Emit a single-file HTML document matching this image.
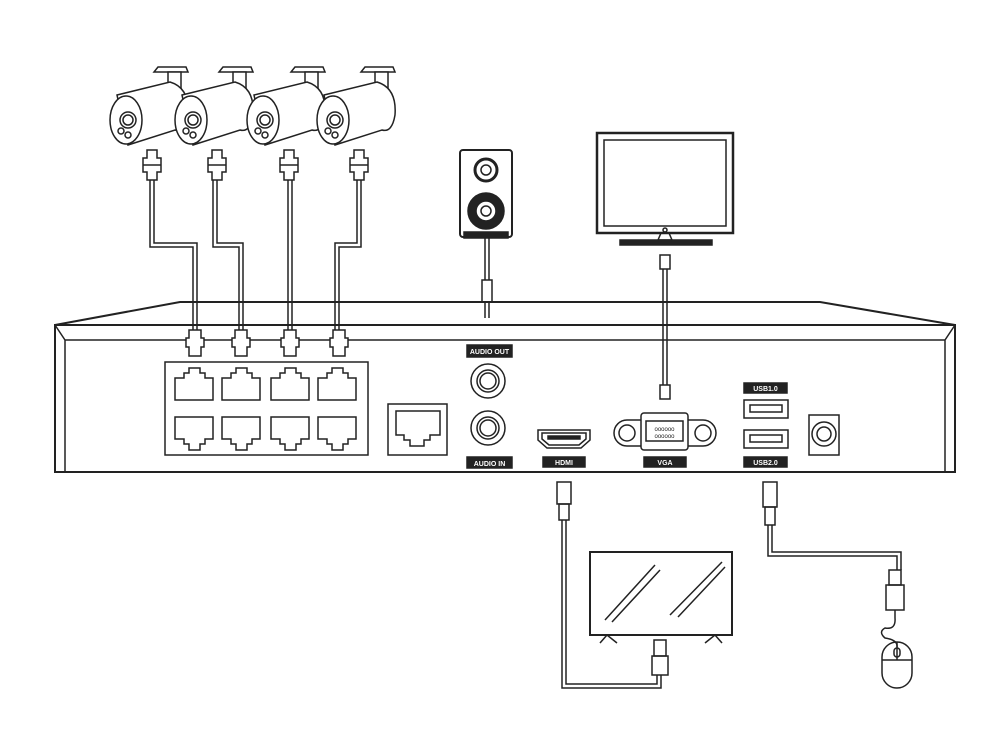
<!DOCTYPE html>
<html><head><meta charset="utf-8"><style>body{margin:0;background:#fff}svg{display:block}text{font-family:"Liberation Sans",sans-serif;font-weight:bold;font-size:7px;fill:#fff;stroke:none}</style></head><body>
<svg width="1000" height="752" viewBox="0 0 1000 752" fill="none" stroke="#222" stroke-width="1.5">
<!-- NVR -->
<path d="M55 325 L180 302 L820 302 L955 325" stroke-width="2"/>
<path d="M55 325 H955 V472 H55 Z" stroke-width="2"/>
<path d="M55 325 L65 340 H945 L955 325 M65 340 V472 M945 340 V472"/>
<rect x="165" y="362" width="203" height="93"/>
<g id="pt"><path d="M175 400 V378 H184 V373 H189 V368 H200 V373 H205 V378 H213 V400 Z"/></g>
<use href="#pt" x="47"/><use href="#pt" x="96"/><use href="#pt" x="143"/>
<g id="pb"><path d="M175 417 V439 H184 V444 H189 V450 H200 V444 H205 V439 H213 V417 Z"/></g>
<use href="#pb" x="47"/><use href="#pb" x="96"/><use href="#pb" x="143"/>
<rect x="388" y="404" width="59" height="51"/>
<path d="M396 411 H440 V435 H430 V440 H424 V446 H410 V440 H404 V435 H396 Z"/>
<rect x="467" y="345" width="45" height="12" fill="#222"/><text x="489.5" y="354" text-anchor="middle">AUDIO OUT</text>
<circle cx="488" cy="381" r="17"/><circle cx="488" cy="381" r="11"/><circle cx="488" cy="381" r="8"/>
<circle cx="488" cy="428" r="17"/><circle cx="488" cy="428" r="11"/><circle cx="488" cy="428" r="8"/>
<rect x="467" y="457" width="45" height="11" fill="#222"/><text x="489.5" y="466" text-anchor="middle">AUDIO IN</text>
<path d="M538 430 H590 V440 L581 448 H547 L538 440 Z"/><path d="M542 433 H586 V439 L579 445 H549 L542 439 Z"/><rect x="548" y="436" width="32" height="3" fill="#222"/>
<rect x="543" y="457" width="42" height="10" fill="#222"/><text x="564" y="465" text-anchor="middle">HDMI</text>
<rect x="614" y="420" width="102" height="26" rx="13"/><circle cx="627" cy="433" r="8"/><circle cx="703" cy="433" r="8"/>
<rect x="641" y="413" width="47" height="37" rx="3" fill="#fff"/><rect x="646" y="421" width="37" height="20"/>
<text x="664.5" y="431" text-anchor="middle" style="fill:#222;font-size:6px;font-weight:normal">oooooo</text><text x="664.5" y="438" text-anchor="middle" style="fill:#222;font-size:6px;font-weight:normal">oooooo</text>
<rect x="644" y="457" width="42" height="10" fill="#222"/><text x="665" y="465" text-anchor="middle">VGA</text>
<rect x="744" y="383" width="43" height="10" fill="#222"/><text x="765.5" y="391" text-anchor="middle">USB1.0</text>
<rect x="744" y="400" width="44" height="18"/><rect x="750" y="405" width="32" height="7"/>
<rect x="744" y="430" width="44" height="18"/><rect x="750" y="435" width="32" height="7"/>
<rect x="744" y="457" width="43" height="10" fill="#222"/><text x="765.5" y="465" text-anchor="middle">USB2.0</text>
<rect x="809" y="415" width="30" height="40"/><circle cx="824" cy="434" r="12"/><circle cx="824" cy="434" r="7"/>
<!-- cameras -->
<g id="cam">
<path d="M158 67 H186 L188 72 H154 Z" fill="#fff"/><rect x="168" y="72" width="13" height="30" fill="#fff"/>
<path d="M117 95 L170 82 Q190 88 188 115 Q185 133 175 130 L128 145 Z" fill="#fff"/>
<ellipse cx="126" cy="120" rx="16" ry="24" fill="#fff"/><circle cx="128" cy="120" r="8"/><circle cx="128" cy="120" r="5"/><circle cx="121" cy="131" r="3"/><circle cx="128" cy="135" r="3"/>
<path d="M147 150 h10 v8 h4 v14 h-4 v8 h-10 v-8 h-4 v-14 h4 Z" fill="#fff"/><path d="M143 165 h18"/>
</g>
<use href="#cam" x="65"/><use href="#cam" x="137"/><use href="#cam" x="207"/>
<!-- camera cables -->
<path d="M150 180 V247 H193 V330 M154 180 V243 H197 V330"/>
<path d="M213 180 V247 H239 V330 M217 180 V243 H243 V330"/>
<path d="M288 180 V330 M292 180 V330"/>
<path d="M357 180 V243 H335 V330 M361 180 V247 H339 V330"/>
<g id="nc"><path d="M189 330 h12 v8 h3 v9 h-3 v9 h-12 v-9 h-3 v-9 h3 Z" fill="#fff"/></g>
<use href="#nc" x="46"/><use href="#nc" x="95"/><use href="#nc" x="144"/>
<!-- speaker -->
<rect x="460" y="150" width="52" height="87" rx="3" stroke-width="2"/><rect x="464" y="232" width="44" height="6" fill="#222"/>
<circle cx="486" cy="170" r="11" stroke-width="3"/><circle cx="486" cy="170" r="5"/>
<circle cx="486" cy="211" r="18" fill="#222"/><circle cx="486" cy="211" r="10" fill="#fff"/><circle cx="486" cy="211" r="5"/>
<path d="M485 238 V280 M489 238 V280"/><rect x="482" y="280" width="10" height="22"/><path d="M485 302 V318 M489 302 V318"/>
<!-- monitor -->
<rect x="597" y="133" width="136" height="100" stroke-width="2.5"/><rect x="604" y="140" width="122" height="86"/>
<circle cx="665" cy="230" r="2"/><path d="M661 233 L658 240 H672 L669 233"/><rect x="620" y="240" width="92" height="5" fill="#222"/>
<rect x="660" y="255" width="10" height="14"/><path d="M663 269 V385 M667 269 V385"/><rect x="660" y="385" width="10" height="14"/>
<!-- HDMI cable + TV -->
<rect x="557" y="482" width="14" height="22"/><rect x="559" y="504" width="10" height="16"/>
<path d="M562 520 V688 H661 V675 M566 520 V684 H657 V675"/>
<rect x="654" y="640" width="12" height="16"/><rect x="652" y="656" width="16" height="19"/>
<rect x="590" y="552" width="142" height="83" stroke-width="2"/>
<path d="M605 620 L655 565 M612 622 L660 570 M670 615 L722 562 M678 617 L725 567"/>
<path d="M600 643 L607 635 L617 643 M705 643 L715 635 L722 643"/>
<!-- USB cable + mouse -->
<rect x="763" y="482" width="14" height="25"/><rect x="765" y="507" width="10" height="18"/>
<path d="M768 525 V556 H897 V570 M772 525 V552 H901 V570"/>
<rect x="889" y="570" width="12" height="15"/><rect x="886" y="585" width="18" height="25"/>
<path d="M895 610 V618 Q896 630 885 628 Q878 632 885 638 Q898 640 897 647"/>
<rect x="882" y="642" width="30" height="46" rx="15"/><path d="M882 660 H912 M897 642 V660"/><rect x="894" y="648" width="6" height="9" rx="3"/>
</svg>
</body></html>
